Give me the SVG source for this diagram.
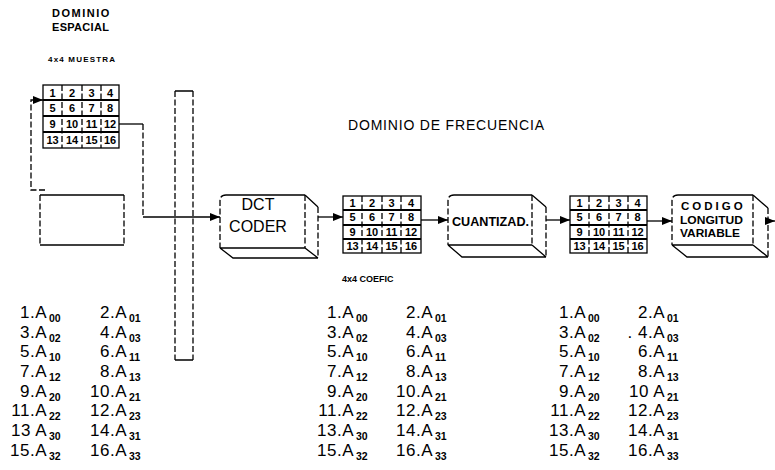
<svg xmlns="http://www.w3.org/2000/svg" width="775" height="470" viewBox="0 0 775 470">
<defs>
<style>
.ln{fill:none;stroke:#000;stroke-width:1.3}
.ds{fill:none;stroke:#000;stroke-width:1.3;stroke-dasharray:6 2.5}
.thk{fill:none;stroke:#000;stroke-width:1.8}
.t{font-family:"Liberation Sans",Arial,sans-serif;fill:#000}
.b{font-weight:bold}
.cell{font-family:"Liberation Sans",Arial,sans-serif;font-weight:bold;font-size:11px;text-anchor:middle;fill:#000}
.main{font-family:"Liberation Sans",Arial,sans-serif;font-size:17px;letter-spacing:0.5px;text-anchor:end;fill:#000}
.sub{font-family:"Liberation Sans",Arial,sans-serif;font-size:10.5px;font-weight:bold;fill:#000}
</style>
<marker id="ah" viewBox="0 0 10 8" refX="10" refY="4" markerWidth="10" markerHeight="8" markerUnits="userSpaceOnUse" orient="auto">
<path d="M0,0 L10,4 L0,8 Z" fill="#000"/>
</marker>
</defs>
<rect width="775" height="470" fill="#fff"/>

<g id="titles">
<text class="t b" x="52" y="17" font-size="11" letter-spacing="1.5">DOMINIO</text>
<text class="t b" x="52" y="31" font-size="11" letter-spacing="0.3">ESPACIAL</text>
<text class="t b" x="48" y="62" font-size="8" letter-spacing="1.2">4x4 MUESTRA</text>
<text class="t" x="348" y="130" font-size="14" textLength="196" lengthAdjust="spacing">DOMINIO DE FRECUENCIA</text>
<text class="t b" x="342" y="282" font-size="9">4x4 COEFIC</text>
</g>

<g id="grid-muestra">
<rect class="ln" x="43" y="85" width="76" height="63"/>
<path class="thk" d="M43,100 H119 M43,116 H119 M43,132 H119"/>
<path class="ds" d="M62,85 V148 M82,85 V148 M101,85 V148"/>
<text class="cell" x="52.5" y="97">1</text><text class="cell" x="72" y="97">2</text><text class="cell" x="91.5" y="97">3</text><text class="cell" x="110" y="97">4</text>
<text class="cell" x="52.5" y="112">5</text><text class="cell" x="72" y="112">6</text><text class="cell" x="91.5" y="112">7</text><text class="cell" x="110" y="112">8</text>
<text class="cell" x="52.5" y="128">9</text><text class="cell" x="72" y="128">10</text><text class="cell" x="91.5" y="128">11</text><text class="cell" x="110" y="128">12</text>
<text class="cell" x="52.5" y="144">13</text><text class="cell" x="72" y="144">14</text><text class="cell" x="91.5" y="144">15</text><text class="cell" x="110" y="144">16</text>
</g>

<g id="box-vacio">
<path class="ln" d="M40,195 H124 M40,245 H124"/>
<path class="ds" d="M40,195 V245 M124,195 V245"/>
</g>

<g id="columna">
<path class="ln" d="M175,91 H193 M175,360 H193"/>
<path class="ds" d="M175,91 V360 M193,91 V360"/>
</g>

<g id="dct-coder">
<path class="ln" d="M226,195 H305 M220,248 H305 M305,195 L318,207 M220,248 L233,258 H318 M305,248 L318,258"/>
<path class="ds" d="M226,195 Q220,195 220,201 V248 M305,195 V248 M318,207 V258"/>
<text class="t" x="258" y="210" font-size="16" text-anchor="middle">DCT</text>
<text class="t" x="258" y="232" font-size="16" text-anchor="middle">CODER</text>
</g>

<g id="grid-coefic">
<rect class="ln" x="343" y="196" width="78" height="57"/>
<path class="thk" d="M343,210 H421 M343,225 H421 M343,239 H421"/>
<path class="ds" d="M362,196 V253 M382,196 V253 M401,196 V253"/>
<text class="cell" x="352.5" y="207">1</text><text class="cell" x="372" y="207">2</text><text class="cell" x="391.5" y="207">3</text><text class="cell" x="411" y="207">4</text>
<text class="cell" x="352.5" y="221">5</text><text class="cell" x="372" y="221">6</text><text class="cell" x="391.5" y="221">7</text><text class="cell" x="411" y="221">8</text>
<text class="cell" x="352.5" y="236">9</text><text class="cell" x="372" y="236">10</text><text class="cell" x="391.5" y="236">11</text><text class="cell" x="411" y="236">12</text>
<text class="cell" x="352.5" y="250">13</text><text class="cell" x="372" y="250">14</text><text class="cell" x="391.5" y="250">15</text><text class="cell" x="411" y="250">16</text>
</g>

<g id="cuantizad">
<path class="ln" d="M454,195 H532 M448,245 H532 M532,195 L546,207 M448,245 L462,257 H546 M532,245 L546,257"/>
<path class="ds" d="M454,195 Q448,195 448,201 V245 M532,195 V245 M546,207 V257"/>
<text class="t b" x="452" y="226" font-size="12" textLength="77" lengthAdjust="spacingAndGlyphs">CUANTIZAD.</text>
</g>

<g id="grid-cuant">
<rect class="ln" x="570" y="196" width="77" height="57"/>
<path class="thk" d="M570,210 H647 M570,225 H647 M570,239 H647"/>
<path class="ds" d="M589,196 V253 M609,196 V253 M628,196 V253"/>
<text class="cell" x="579.5" y="207">1</text><text class="cell" x="599" y="207">2</text><text class="cell" x="618.5" y="207">3</text><text class="cell" x="637.5" y="207">4</text>
<text class="cell" x="579.5" y="221">5</text><text class="cell" x="599" y="221">6</text><text class="cell" x="618.5" y="221">7</text><text class="cell" x="637.5" y="221">8</text>
<text class="cell" x="579.5" y="236">9</text><text class="cell" x="599" y="236">10</text><text class="cell" x="618.5" y="236">11</text><text class="cell" x="637.5" y="236">12</text>
<text class="cell" x="579.5" y="250">13</text><text class="cell" x="599" y="250">14</text><text class="cell" x="618.5" y="250">15</text><text class="cell" x="637.5" y="250">16</text>
</g>

<g id="codigo">
<path class="ln" d="M678,195 H753 M672,245 H753 M753,195 L768,208 M672,245 L687,257 H768 M753,245 L768,257"/>
<path class="ds" d="M678,195 Q672,195 672,201 V245 M753,195 V245 M768,208 V257"/>
<text class="t b" x="681" y="210" font-size="11.5" letter-spacing="3">CODIGO</text>
<text class="t b" x="680" y="224" font-size="11.5" textLength="63" lengthAdjust="spacingAndGlyphs">LONGITUD</text>
<text class="t b" x="680" y="237" font-size="11.5" textLength="60" lengthAdjust="spacingAndGlyphs">VARIABLE</text>
</g>

<g id="connectors">
<path class="ds" d="M45,190 H31 V100 H43" marker-end="url(#ah)"/>
<path class="ln" d="M119,124 H143"/>
<path class="ds" d="M143,124 V217"/>
<path class="ln" d="M143,217 H220" marker-end="url(#ah)"/>
<path class="ln" d="M318,217 H343" marker-end="url(#ah)"/>
<path class="ln" d="M421,220 H448" marker-end="url(#ah)"/>
<path class="ln" d="M546,220 H570" marker-end="url(#ah)"/>
<path class="ln" d="M647,221 H672" marker-end="url(#ah)"/>
<path class="ln" d="M768,221 H775" marker-end="url(#ah)"/>
</g>

<g id="lista-1">
<text class="main" x="47" y="318">1.A</text><text class="sub" x="49" y="322">00</text>
<text class="main" x="127" y="318">2.A</text><text class="sub" x="129" y="322">01</text>
<text class="main" x="47" y="338">3.A</text><text class="sub" x="49" y="342">02</text>
<text class="main" x="127" y="338">4.A</text><text class="sub" x="129" y="342">03</text>
<text class="main" x="47" y="357">5.A</text><text class="sub" x="49" y="361">10</text>
<text class="main" x="127" y="357">6.A</text><text class="sub" x="129" y="361">11</text>
<text class="main" x="47" y="377">7.A</text><text class="sub" x="49" y="381">12</text>
<text class="main" x="127" y="377">8.A</text><text class="sub" x="129" y="381">13</text>
<text class="main" x="47" y="397">9.A</text><text class="sub" x="49" y="401">20</text>
<text class="main" x="127" y="397">10.A</text><text class="sub" x="129" y="401">21</text>
<text class="main" x="47" y="416">11.A</text><text class="sub" x="49" y="420">22</text>
<text class="main" x="127" y="416">12.A</text><text class="sub" x="129" y="420">23</text>
<text class="main" x="47" y="436">13 A</text><text class="sub" x="49" y="440">30</text>
<text class="main" x="127" y="436">14.A</text><text class="sub" x="129" y="440">31</text>
<text class="main" x="47" y="456">15.A</text><text class="sub" x="49" y="460">32</text>
<text class="main" x="127" y="456">16.A</text><text class="sub" x="129" y="460">33</text>
</g>

<g id="lista-2">
<text class="main" x="354" y="318">1.A</text><text class="sub" x="356" y="322">00</text>
<text class="main" x="433" y="318">2.A</text><text class="sub" x="435" y="322">01</text>
<text class="main" x="354" y="338">3.A</text><text class="sub" x="356" y="342">02</text>
<text class="main" x="433" y="338">4.A</text><text class="sub" x="435" y="342">03</text>
<text class="main" x="354" y="357">5.A</text><text class="sub" x="356" y="361">10</text>
<text class="main" x="433" y="357">6.A</text><text class="sub" x="435" y="361">11</text>
<text class="main" x="354" y="377">7.A</text><text class="sub" x="356" y="381">12</text>
<text class="main" x="433" y="377">8.A</text><text class="sub" x="435" y="381">13</text>
<text class="main" x="354" y="397">9.A</text><text class="sub" x="356" y="401">20</text>
<text class="main" x="433" y="397">10.A</text><text class="sub" x="435" y="401">21</text>
<text class="main" x="354" y="416">11.A</text><text class="sub" x="356" y="420">22</text>
<text class="main" x="433" y="416">12.A</text><text class="sub" x="435" y="420">23</text>
<text class="main" x="354" y="436">13.A</text><text class="sub" x="356" y="440">30</text>
<text class="main" x="433" y="436">14.A</text><text class="sub" x="435" y="440">31</text>
<text class="main" x="354" y="456">15.A</text><text class="sub" x="356" y="460">32</text>
<text class="main" x="433" y="456">16.A</text><text class="sub" x="435" y="460">33</text>
</g>

<g id="lista-3">
<text class="main" x="586" y="318">1.A</text><text class="sub" x="588" y="322">00</text>
<text class="main" x="665" y="318">2.A</text><text class="sub" x="667" y="322">01</text>
<text class="main" x="586" y="338">3.A</text><text class="sub" x="588" y="342">02</text>
<text class="main" x="665" y="338">. 4.A</text><text class="sub" x="667" y="342">03</text>
<text class="main" x="586" y="357">5.A</text><text class="sub" x="588" y="361">10</text>
<text class="main" x="665" y="357">6.A</text><text class="sub" x="667" y="361">11</text>
<text class="main" x="586" y="377">7.A</text><text class="sub" x="588" y="381">12</text>
<text class="main" x="665" y="377">8.A</text><text class="sub" x="667" y="381">13</text>
<text class="main" x="586" y="397">9.A</text><text class="sub" x="588" y="401">20</text>
<text class="main" x="665" y="397">10 A</text><text class="sub" x="667" y="401">21</text>
<text class="main" x="586" y="416">11.A</text><text class="sub" x="588" y="420">22</text>
<text class="main" x="665" y="416">12.A</text><text class="sub" x="667" y="420">23</text>
<text class="main" x="586" y="436">13.A</text><text class="sub" x="588" y="440">30</text>
<text class="main" x="665" y="436">14.A</text><text class="sub" x="667" y="440">31</text>
<text class="main" x="586" y="456">15.A</text><text class="sub" x="588" y="460">32</text>
<text class="main" x="665" y="456">16.A</text><text class="sub" x="667" y="460">33</text>
</g>
</svg>
